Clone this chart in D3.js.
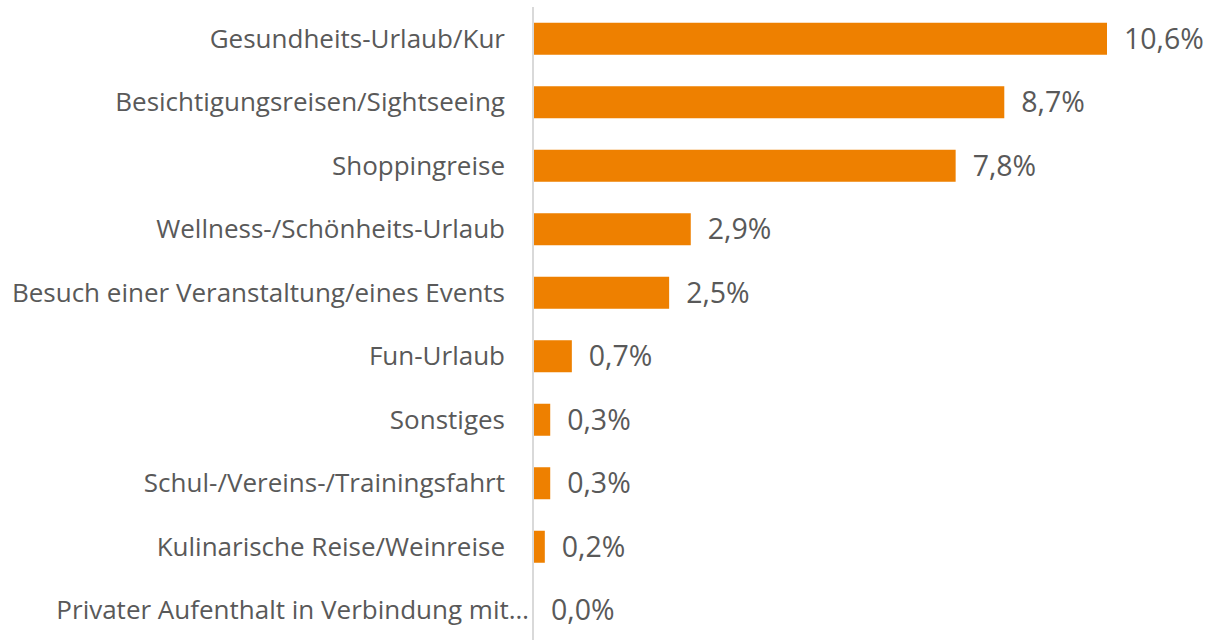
<!DOCTYPE html>
<html>
<head>
<meta charset="utf-8">
<script src="https://cdn.jsdelivr.net/npm/d3@7"></script>
<style>
  body { margin: 0; background: #fff; }
  svg text { font-family: "Open Sans", sans-serif; fill: #595959; }
</style>
</head>
<body>
<svg id="chart" width="1206" height="640"></svg>
<script>
var categories = [
  'Gesundheits-Urlaub/Kur',
  'Besichtigungsreisen/Sightseeing',
  'Shoppingreise',
  'Wellness-/Schönheits-Urlaub',
  'Besuch einer Veranstaltung/eines Events',
  'Fun-Urlaub',
  'Sonstiges',
  'Schul-/Vereins-/Trainingsfahrt',
  'Kulinarische Reise/Weinreise',
  'Privater Aufenthalt in Verbindung mit…'
];
var values = [10.6, 8.7, 7.8, 2.9, 2.5, 0.7, 0.3, 0.3, 0.2, 0.0];
var valueLabels = ['10,6%', '8,7%', '7,8%', '2,9%', '2,5%', '0,7%', '0,3%', '0,3%', '0,2%', '0,0%'];

var data = categories.map(function (c, i) {
  return { cat: c, val: values[i], label: valueLabels[i], cut: c.slice(-1) === '…' };
});

var svg = d3.select('#chart');
var axisX = 533;

var y = d3.scaleBand()
  .domain(categories)
  .range([7, 642])
  .paddingInner(0.496)
  .paddingOuter(0.248);

var x = d3.scaleLinear()
  .domain([0, d3.max(values)])
  .range([axisX + 1, 1107]);

svg.selectAll('rect.bar')
  .data(data)
  .enter()
  .append('rect')
  .attr('class', 'bar')
  .attr('x', x(0))
  .attr('y', function (d) { return y(d.cat); })
  .attr('width', function (d) { return x(d.val) - x(0); })
  .attr('height', y.bandwidth())
  .attr('fill', '#EE8000');

// category axis line
svg.append('line')
  .attr('x1', axisX).attr('x2', axisX)
  .attr('y1', 7).attr('y2', 640)
  .attr('stroke', '#d9d9d9')
  .attr('stroke-width', 2);

svg.selectAll('text.cat')
  .data(data)
  .enter()
  .append('text')
  .attr('class', 'cat')
  .attr('x', function (d) { return d.cut ? axisX - 4 : axisX - 28; })
  .attr('y', function (d) { return y(d.cat) + y.bandwidth() / 2; })
  .attr('dy', '0.35em')
  .attr('text-anchor', 'end')
  .style('font-size', '26px')
  .text(function (d) { return d.cat; });

svg.selectAll('text.val')
  .data(data)
  .enter()
  .append('text')
  .attr('class', 'val')
  .attr('x', function (d) { return x(d.val) + 17; })
  .attr('y', function (d) { return y(d.cat) + y.bandwidth() / 2; })
  .attr('dy', '0.35em')
  .style('font-size', '28.5px')
  .text(function (d) { return d.label; });
</script>
</body>
</html>
